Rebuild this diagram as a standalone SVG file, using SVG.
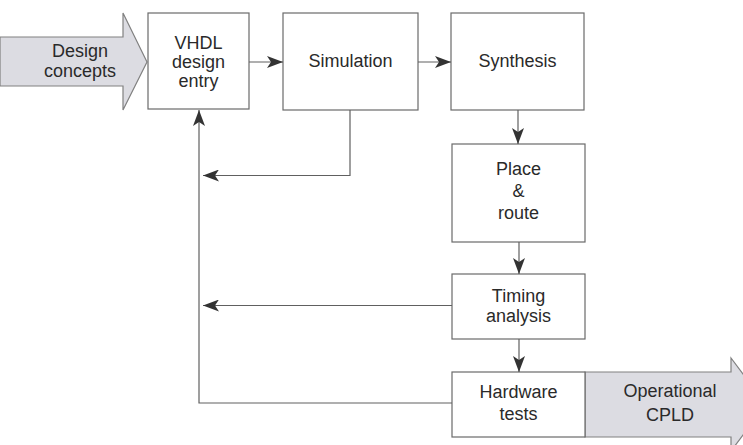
<svg xmlns="http://www.w3.org/2000/svg" width="743" height="445" viewBox="0 0 743 445">
<style>
.box{fill:#ffffff;stroke:#6a6a6a;stroke-width:1.2}
.big{fill:#dcdce2;stroke:#808080;stroke-width:1.2}
.t{font-family:"Liberation Sans",Arial,sans-serif;font-size:18px;fill:#2a2a2a;text-anchor:middle}
.c{fill:none;stroke:#606060;stroke-width:1.2}
</style>
<defs>
<marker id="ah" viewBox="0 0 16 12" refX="16" refY="6" markerWidth="16" markerHeight="12" markerUnits="userSpaceOnUse" orient="auto">
<path d="M0,0 L16,6 L0,12 L4,6 Z" fill="#333"/>
</marker>
</defs>
<rect width="743" height="445" fill="#ffffff"/>
<g id="design-concepts">
<polygon class="big" points="0,37 123,37 123,13 147,62 123,110 123,86 0,86"/>
<text class="t" x="80" y="57">Design</text>
<text class="t" x="80" y="77">concepts</text>
</g>
<g id="operational-cpld">
<polygon class="big" points="585,372 731,372 731,358 766,404.5 731,451 731,437 585,437"/>
<text class="t" x="670" y="397">Operational</text>
<text class="t" x="670" y="421">CPLD</text>
</g>
<g id="vhdl">
<rect class="box" x="148" y="13" width="101" height="96"/>
<text class="t" x="198.5" y="49">VHDL</text>
<text class="t" x="198.5" y="68">design</text>
<text class="t" x="198.5" y="87">entry</text>
</g>
<g id="simulation">
<rect class="box" x="283" y="13" width="135" height="97"/>
<text class="t" x="350.5" y="67">Simulation</text>
</g>
<g id="synthesis">
<rect class="box" x="451" y="13" width="133" height="97"/>
<text class="t" x="517.5" y="67">Synthesis</text>
</g>
<g id="place-route">
<rect class="box" x="452" y="144" width="133" height="98"/>
<text class="t" x="518.5" y="175">Place</text>
<text class="t" x="518.5" y="197">&amp;</text>
<text class="t" x="518.5" y="219">route</text>
</g>
<g id="timing">
<rect class="box" x="452" y="274" width="133" height="65"/>
<text class="t" x="518.5" y="302">Timing</text>
<text class="t" x="518.5" y="322">analysis</text>
</g>
<g id="hardware">
<rect class="box" x="452" y="372" width="133" height="65"/>
<text class="t" x="518.5" y="398">Hardware</text>
<text class="t" x="518.5" y="420">tests</text>
</g>
<g id="connectors">
<line class="c" x1="249" y1="62" x2="283" y2="62" marker-end="url(#ah)"/>
<line class="c" x1="418" y1="62" x2="451" y2="62" marker-end="url(#ah)"/>
<line class="c" x1="518" y1="110" x2="518" y2="144" marker-end="url(#ah)"/>
<line class="c" x1="519" y1="242" x2="519" y2="274" marker-end="url(#ah)"/>
<line class="c" x1="519" y1="339" x2="519" y2="372" marker-end="url(#ah)"/>
<polyline class="c" points="350,110 350,175.5 203,175.5" marker-end="url(#ah)"/>
<line class="c" x1="452" y1="305.5" x2="203" y2="305.5" marker-end="url(#ah)"/>
<polyline class="c" points="452,403 199,403 199,110" marker-end="url(#ah)"/>
</g>
</svg>
